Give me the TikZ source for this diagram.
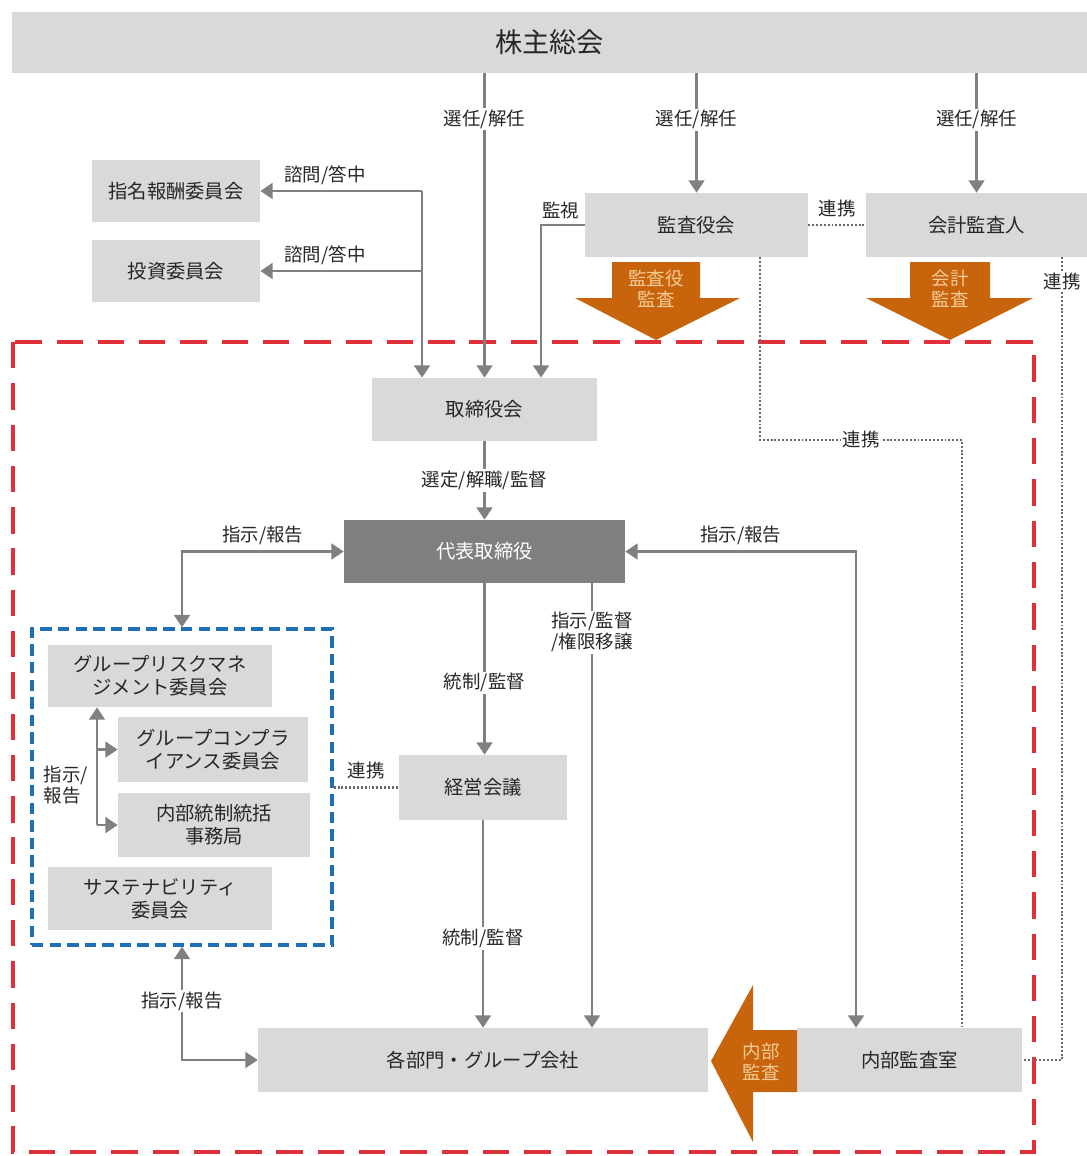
\documentclass[tikz,border=0pt]{standalone}
\usepackage{fontspec}
\setmainfont{Noto Sans CJK JP}
\usepackage{xcolor}
\usetikzlibrary{arrows.meta}

\definecolor{boxgray}{HTML}{D9D9D9}
\definecolor{darkbox}{HTML}{7F7F7F}
\definecolor{linegray}{HTML}{808080}
\definecolor{dotgray}{HTML}{6A6A6A}
\definecolor{auditorange}{HTML}{C8650C}
\definecolor{audittext}{HTML}{F7CB98}
\definecolor{framered}{HTML}{E0303A}
\definecolor{frameblue}{HTML}{1F6FB5}
\definecolor{txt}{HTML}{262626}

\begin{document}
\begin{tikzpicture}[x=0.02cm, y=-0.02cm,
    box/.style={fill=boxgray, text=txt, align=center, inner sep=0pt,
                font=\fontsize{11}{13}\selectfont},
    lbl/.style={fill=white, text=txt, inner sep=1pt, align=center,
                font=\fontsize{10.5}{12}\selectfont},
    conn/.style={draw=linegray, line width=1.2pt, -{Triangle[width=9pt,length=7pt]}},
    both/.style={conn, {Triangle[width=9pt,length=7pt]}-{Triangle[width=9pt,length=7pt]}},
    link/.style={draw=dotgray, line width=1.3pt, dash pattern=on 1.1pt off 1.1pt},
    bigarrow/.style={fill=auditorange, draw=none},
    arrowtext/.style={text=audittext, align=center, font=\fontsize{10.5}{12}\selectfont}]

    \useasboundingbox (0,0) rectangle (1087,1156);

    \node[box, minimum width=21.5cm, minimum height=1.22cm,
          font=\fontsize{15.5}{18}\selectfont] (soukai) at (549.5,42.5) {株主総会};
    \node[box, minimum width=3.36cm, minimum height=1.24cm] (shimei) at (176,191) {指名報酬委員会};
    \node[box, minimum width=3.36cm, minimum height=1.24cm] (toushi) at (176,271) {投資委員会};
    \node[box, minimum width=4.46cm, minimum height=1.28cm] (kansa) at (696.5,225) {監査役会};
    \node[box, minimum width=4.42cm, minimum height=1.28cm] (kaikei) at (976.5,225) {会計監査人};
    \node[box, minimum width=4.5cm, minimum height=1.26cm] (torishimari) at (484.5,409.5) {取締役会};
    \node[box, fill=darkbox, text=white, minimum width=5.62cm, minimum height=1.26cm] (daihyo) at (484.5,551.5) {代表取締役};
    \node[box, minimum width=3.36cm, minimum height=1.3cm] (keiei) at (483,787.5) {経営会議};
    \node[box, minimum width=9cm, minimum height=1.28cm] (kakubu) at (483,1060) {各部門・グループ会社};
    \node[box, minimum width=4.5cm, minimum height=1.28cm] (naibu) at (909.5,1060) {内部監査室};

    \node[draw=frameblue, line width=2pt, dash pattern=on 6.5pt off 3.5pt,
          minimum width=6cm, minimum height=6.32cm, inner sep=0pt] (grp) at (182,787) {};
    \node[box, minimum width=4.48cm, minimum height=1.24cm] (risk) at (160,676) {グループリスクマネ\\ジメント委員会};
    \node[box, minimum width=3.8cm, minimum height=1.3cm] (compla) at (213,749.5) {グループコンプラ\\イアンス委員会};
    \node[box, minimum width=3.84cm, minimum height=1.28cm] (naisei) at (214,825) {内部統制統括\\事務局};
    \node[box, minimum width=4.48cm, minimum height=1.26cm] (sustain) at (160,898.5) {サステナビリティ\\委員会};

    \draw[framered, line width=2.2pt, dash pattern=on 15pt off 8.5pt] (13,342) rectangle (1034,1152);

    \fill[bigarrow] (612,262) -- (700,262) -- (700,298) -- (740,298) -- (656,340)
                    -- (575,298) -- (612,298) -- cycle;
    \node[arrowtext] (kansaA) at (656,289) {監査役\\監査};
    \fill[bigarrow] (910,262) -- (990,262) -- (990,298) -- (1033,298) -- (950,340)
                    -- (866,298) -- (910,298) -- cycle;
    \node[arrowtext] (kaikeiA) at (950,289) {会計\\監査};
    \fill[bigarrow] (797,1030) -- (797,1092) -- (753,1092) -- (753,1142) -- (711,1061)
                    -- (753,985) -- (753,1030) -- cycle;
    \node[arrowtext] (naibuA) at (761,1062) {内部\\監査};

    \draw[conn] (soukai.south -| torishimari.north) -- node[lbl, pos=0.15]{選任/解任} (torishimari.north);
    \draw[conn] (soukai.south -| kansa.north) -- node[lbl, pos=0.39]{選任/解任} (kansa.north);
    \draw[conn] (soukai.south -| kaikei.north) -- node[lbl, pos=0.39]{選任/解任} (kaikei.north);

    \coordinate (shimon) at (422,191);
    \draw[conn] (shimon) -- node[lbl, above=2pt, pos=0.6]{諮問/答中} (shimei.east);
    \draw[conn] (shimon |- toushi.east) -- node[lbl, above=2pt, pos=0.6]{諮問/答中} (toushi.east);
    \draw[conn] (shimon) -- (shimon |- torishimari.north);

    \coordinate (kanshi) at (541,0);
    \draw[conn] (kansa.west) -| (kanshi |- torishimari.north);
    \node[lbl, anchor=south east] (kanshiL) at ([xshift=-2pt, yshift=2pt]kansa.west) {監視};

    \draw[link] (kansa.east) -- node[lbl, above=3pt]{連携} (kaikei.west);
    \coordinate (r1) at (760,440);
    \coordinate (r2) at (962,440);
    \draw[link] (r1 |- kansa.south) -- (r1) -- node[lbl]{連携} (r2) -- (r2 |- naibu.north);
    \coordinate (r3) at (1062,0);
    \draw[link] (r3 |- kaikei.south) -- node[lbl, pos=0.03]{連携} (r3 |- naibu.east) -- (naibu.east);

    \draw[conn] (torishimari.south) -- node[lbl]{選定/解職/監督} (daihyo.north);
    \draw[both] (grp.north) |- node[lbl, above=2pt, pos=0.75]{指示/報告} (daihyo.west);
    \coordinate (r4) at (856,0);
    \draw[both] (daihyo.east) -| node[lbl, above=2pt, pos=0.25]{指示/報告} (r4 |- naibu.north);

    \draw[conn] (daihyo.south) -- node[lbl, pos=0.58]{統制/監督} (daihyo.south |- keiei.north);
    \draw[conn] (keiei.south) -- node[lbl, pos=0.57]{統制/監督} (keiei.south |- kakubu.north);
    \coordinate (r5) at (592,0);
    \draw[conn] (r5 |- daihyo.south) -- node[lbl, pos=0.11]{指示/監督\\/権限移譲} (r5 |- kakubu.north);
    \draw[link] (grp.east |- keiei.west) -- node[lbl, above=3pt]{連携} (keiei.west);

    \coordinate (v) at (97,0);
    \draw[conn] (v |- naisei.west) -- (v |- risk.south);
    \draw[conn] (v |- compla.west) -- (compla.west);
    \draw[conn] (v |- naisei.west) -- (naisei.west);
    \node[lbl, align=left] (shijiL) at (66,785) {指示/\\報告};

    \draw[both] (grp.south) |- node[lbl, pos=0.24]{指示/報告} (kakubu.west);
\end{tikzpicture}
\end{document}
